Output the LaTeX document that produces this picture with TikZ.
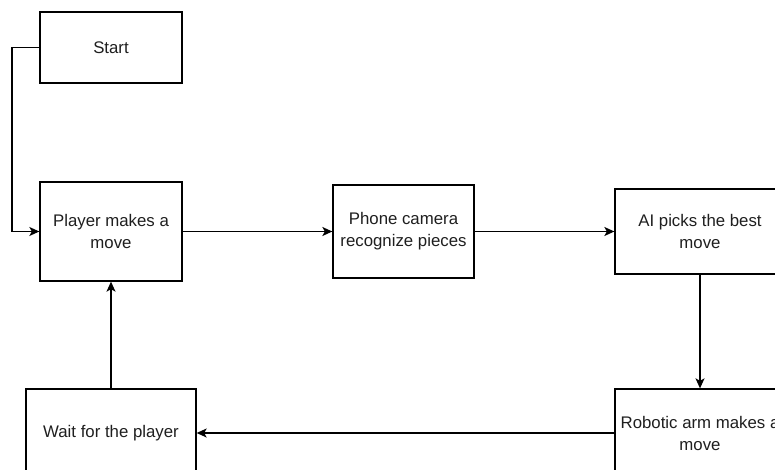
\documentclass[tikz,border=0pt]{standalone}
\usepackage{fontspec}
\setmainfont{Liberation Sans}
\usetikzlibrary{arrows.meta}
\begin{document}
\begin{tikzpicture}[x=1pt,y=-1pt,
  box/.style={draw=black,line width=1.3pt,fill=white,align=center,inner sep=0pt,
    font=\fontsize{16.8}{22}\selectfont,text=black!88},
  conn/.style={line width=1.3pt,-{Stealth[length=10pt,width=9pt,inset=2.5pt]}}]
\useasboundingbox (0,0) rectangle (775,470);
\clip (0,0) rectangle (775,470);
\fill[white] (0,0) rectangle (775,470);
\node[box,minimum width=142pt,minimum height=71pt] (start) at (111,47.5) {Start};
\node[box,minimum width=142pt,minimum height=99pt] (player) at (111,231.5) {Player makes a\\move};
\node[box,minimum width=141pt,minimum height=93pt] (phone) at (403.5,231.5) {Phone camera\\recognize pieces};
\node[box,minimum width=170pt,minimum height=85pt] (ai) at (700,231.5) {AI picks the best\\move};
\node[box,minimum width=170pt,minimum height=88pt] (robot) at (700,433) {Robotic arm makes a\\move};
\node[box,minimum width=170pt,minimum height=88pt] (wait) at (111,433) {Wait for the player};
\coordinate (c1) at (12,47.5);
\coordinate (c2) at (12,231.5);
\draw[conn] (start.west) -- (c1) -- (c2) -- (player.west);
\draw[conn] (player.east) -- (phone.west);
\draw[conn] (phone.east) -- (ai.west);
\draw[conn] (ai.south) -- (robot.north);
\draw[conn] (robot.west) -- (wait.east);
\draw[conn] (wait.north) -- (player.south);
\end{tikzpicture}
\end{document}
